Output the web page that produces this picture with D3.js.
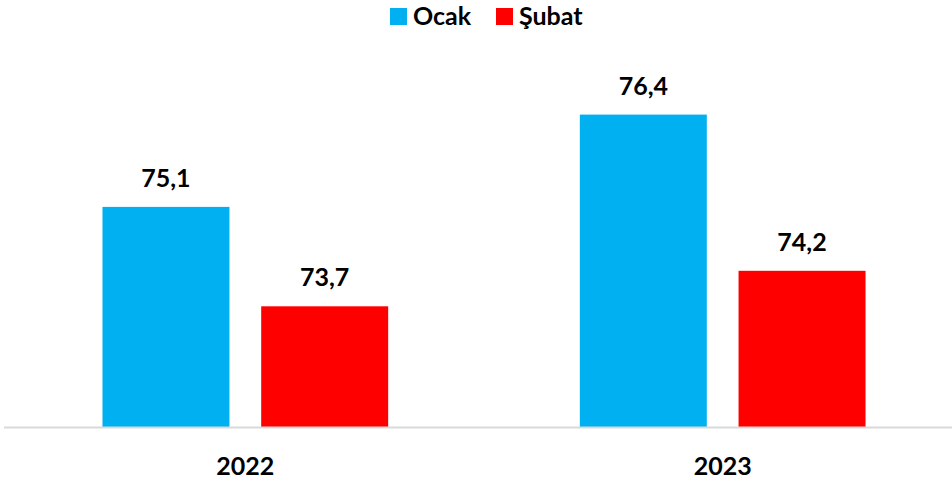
<!DOCTYPE html>
<html>
<head>
<meta charset="utf-8">
<script src="https://cdn.jsdelivr.net/npm/d3@7"></script>
<style>
  body { margin: 0; background: #fff; }
  text { font-family: Lato, "Open Sans", sans-serif; font-weight: bold; fill: #000; }
</style>
</head>
<body>
<svg id="chart" width="952" height="484"></svg>
<script>
// data
var years = ['2022', '2023'];
var series = ['Ocak', 'Şubat'];
var ocak = [75.1, 76.4];
var subat = [73.7, 74.2];
var colors = ['#00B0F0', '#FF0000'];

var rows = years.map(function (y, i) {
  return { year: y, values: [ocak[i], subat[i]] };
});

var svg = d3.select('#chart');

var x0 = d3.scaleBand()
  .domain(years)
  .range([7, 961])
  .paddingInner(0.4015)
  .paddingOuter(0.2);

var x1 = d3.scaleBand()
  .domain(series)
  .range([0, x0.bandwidth()])
  .paddingInner(0.2);

var y = d3.scaleLinear()
  .domain([72, 77])
  .range([427, 72]);

// bars
var groups = svg.selectAll('g.year')
  .data(rows)
  .enter()
  .append('g')
  .attr('class', 'year')
  .attr('transform', function (d) { return 'translate(' + x0(d.year) + ',0)'; });

groups.selectAll('rect')
  .data(function (d) { return d.values.map(function (v, i) { return { s: series[i], v: v, i: i }; }); })
  .enter()
  .append('rect')
  .attr('x', function (d) { return x1(d.s); })
  .attr('width', x1.bandwidth())
  .attr('y', function (d) { return y(d.v); })
  .attr('height', function (d) { return y(72) - y(d.v); })
  .style('fill', function (d) { return colors[d.i]; });

groups.selectAll('text.val')
  .data(function (d) { return d.values.map(function (v, i) { return { s: series[i], v: v }; }); })
  .enter()
  .append('text')
  .attr('class', 'val')
  .attr('x', function (d) { return x1(d.s) + x1.bandwidth() / 2; })
  .attr('y', function (d) { return y(d.v) - 20; })
  .attr('text-anchor', 'middle')
  .style('font-size', '25px')
  .text(function (d) { return d.v.toFixed(1).replace('.', ','); });

// baseline
svg.append('line')
  .attr('x1', 4).attr('x2', 952)
  .attr('y1', y(72) + 0.5).attr('y2', y(72) + 0.5)
  .style('stroke', '#D9D9D9')
  .style('stroke-width', 2);

// category labels
var xAxis = d3.axisBottom(x0).tickSize(0).tickPadding(0);
var axisG = svg.append('g')
  .attr('transform', 'translate(0,' + (y(72) + 30) + ')')
  .call(xAxis);
axisG.select('.domain').remove();
axisG.selectAll('text')
  .attr('dy', '0.71em')
  .style('font-size', '25px')
  .style('font-family', 'Lato, "Open Sans", sans-serif')
  .style('font-weight', 'bold')
  .style('fill', '#000');

// legend
var legendX = [390, 496];
var leg = svg.selectAll('g.leg')
  .data(series)
  .enter()
  .append('g')
  .attr('class', 'leg')
  .attr('transform', function (d, i) { return 'translate(' + legendX[i] + ',8)'; });
leg.append('rect')
  .attr('width', 17).attr('height', 17)
  .style('fill', function (d, i) { return colors[i]; });
leg.append('text')
  .attr('x', 23).attr('y', 17)
  .style('font-size', '25px')
  .text(function (d) { return d; });
</script>
</body>
</html>
